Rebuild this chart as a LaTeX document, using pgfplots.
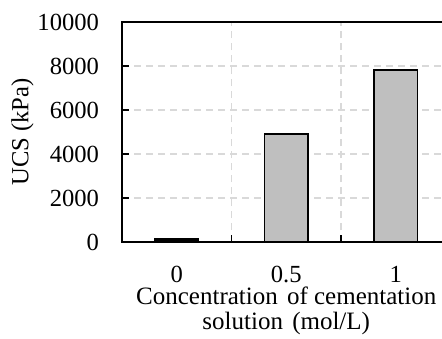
\documentclass[border=0pt]{standalone}
\usepackage{fontspec}
\setmainfont{Liberation Serif}
\usepackage{pgfplots}
\pgfplotsset{compat=1.18}
\definecolor{barfill}{RGB}{191,191,191}
\definecolor{gridc}{RGB}{217,217,217}
\begin{document}
\begin{tikzpicture}
\begin{axis}[
  scale only axis,
  width=164.25pt, height=110pt,
  xmin=-0.5, xmax=2.5, ymin=0, ymax=10000,
  ybar, bar width=0.4,
  xtick={-0.5,0.5,1.5,2.5},
  x tick label as interval=true,
  xticklabels={0,0.5,1},
  ytick={0,2000,4000,6000,8000,10000},
  xmajorgrids, ymajorgrids,
  grid style={gridc, dash pattern=on 3.5pt off 2.5pt, line width=0.75pt},
  tick align=inside, xtick pos=bottom, ytick pos=left,
  major tick length=3.5pt,
  tick style={black, line width=0.7pt},
  axis line style={black, line width=0.8pt},
  scaled y ticks=false,
  /pgf/number format/1000 sep={},
  /pgf/number format/assume math mode=true,
  tick label style={font=\fontsize{12.3}{14}\selectfont},
  xticklabel style={anchor=base, inner sep=0pt, yshift=-20pt},
  yticklabel style={anchor=east, inner sep=0pt, xshift=-11.3pt},
  ylabel={UCS (kPa)},
  ylabel style={font=\fontsize{12.3}{14}\selectfont, at={([xshift=-46.8pt]rel axis cs:0,0.5)}, anchor=base, inner sep=0pt},
  xlabel={Concentration\hspace{0.12em} of cementation\\solution\hspace{0.12em} (mol/L)},
  xlabel style={font=\fontsize{12.5}{12.5}\selectfont, align=center, at={([xshift=0pt,yshift=-22.3pt]rel axis cs:0.5,0)}, anchor=north, inner sep=0pt},
]
\addplot[fill=black, draw=black, line width=0.75pt, bar shift=0pt] coordinates {(0,150)};
\addplot[fill=barfill, draw=black, line width=0.75pt, bar shift=0pt] coordinates {(1,4920) (2,7820)};
\coordinate (sw) at (rel axis cs:0,0);
\coordinate (nw) at (rel axis cs:0,1);
\end{axis}
\pgfresetboundingbox
\path[use as bounding box] ([xshift=-61pt,yshift=-48pt]sw) rectangle ([xshift=160pt,yshift=11pt]nw);
\end{tikzpicture}
\end{document}
